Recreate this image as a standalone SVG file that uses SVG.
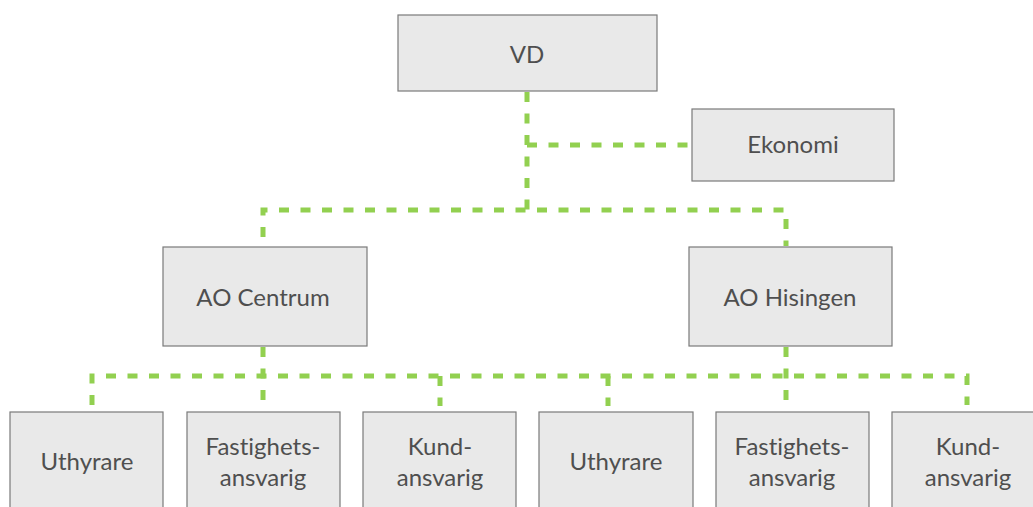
<svg xmlns="http://www.w3.org/2000/svg" width="1033" height="507" viewBox="0 0 1033 507">
  <style>
    .box { fill: #e9e9e9; stroke: #7a7a7a; stroke-width: 1.2; }
    .lbl { font-family: Lato, "Open Sans", "Liberation Sans", sans-serif; font-size: 24px; fill: #4f4f4f; text-anchor: middle; font-variant-ligatures: none; }
    .link { fill: none; stroke: #92d050; stroke-width: 5; stroke-dasharray: 10 11.5; }
  </style>
  <rect width="1033" height="507" fill="#ffffff"/>

  <!-- connectors -->
  <g id="connectors">
    <path class="link" d="M527 92 V210"/>
    <path class="link" d="M527 145 H691"/>
    <path class="link" d="M263 237 V210 H786 V246"/>
    <path class="link" d="M263 347 V406"/>
    <path class="link" d="M786 347 V406"/>
    <path class="link" d="M92 405 V376 H967 V405"/>
    <path class="link" d="M440 376 V406"/>
    <path class="link" d="M608 376 V406"/>
  </g>

  <g id="vd">
    <rect class="box" x="398" y="15" width="259" height="76"/>
    <text class="lbl" x="527" y="63">VD</text>
  </g>
  <g id="ekonomi">
    <rect class="box" x="692" y="109" width="202" height="72"/>
    <text class="lbl" x="793" y="153">Ekonomi</text>
  </g>
  <g id="ao-centrum">
    <rect class="box" x="163" y="247" width="204" height="99"/>
    <text class="lbl" x="263" y="306">AO Centrum</text>
  </g>
  <g id="ao-hisingen">
    <rect class="box" x="689" y="247" width="203" height="99"/>
    <text class="lbl" x="790" y="306">AO Hisingen</text>
  </g>

  <g id="uthyrare-1">
    <rect class="box" x="10" y="412" width="153" height="110"/>
    <text class="lbl" x="87" y="470">Uthyrare</text>
  </g>
  <g id="fastighet-1">
    <rect class="box" x="187" y="412" width="153" height="110"/>
    <text class="lbl" x="263" y="455">Fastighets-</text>
    <text class="lbl" x="263" y="486">ansvarig</text>
  </g>
  <g id="kund-1">
    <rect class="box" x="363" y="412" width="153" height="110"/>
    <text class="lbl" x="440" y="455">Kund-</text>
    <text class="lbl" x="440" y="486">ansvarig</text>
  </g>
  <g id="uthyrare-2">
    <rect class="box" x="539" y="412" width="154" height="110"/>
    <text class="lbl" x="616" y="470">Uthyrare</text>
  </g>
  <g id="fastighet-2">
    <rect class="box" x="716" y="412" width="153" height="110"/>
    <text class="lbl" x="792" y="455">Fastighets-</text>
    <text class="lbl" x="792" y="486">ansvarig</text>
  </g>
  <g id="kund-2">
    <rect class="box" x="892" y="412" width="153" height="110"/>
    <text class="lbl" x="968" y="455">Kund-</text>
    <text class="lbl" x="968" y="486">ansvarig</text>
  </g>
</svg>
